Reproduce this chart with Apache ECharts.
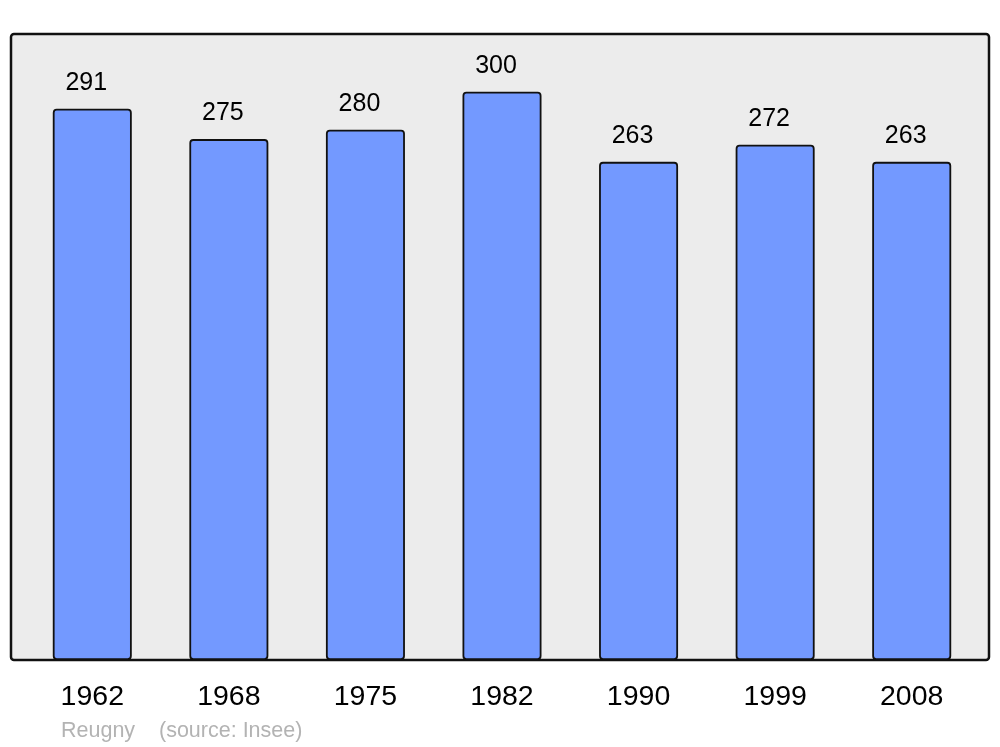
<!DOCTYPE html>
<html>
<head>
<meta charset="utf-8">
<script src="https://cdn.jsdelivr.net/npm/echarts@6/dist/echarts.min.js"></script>
<style>html,body{margin:0;padding:0;background:#fff;}#c{width:1000px;height:747px;}</style>
</head>
<body>
<div id="c"></div>
<script>
const years = ['1962', '1968', '1975', '1982', '1990', '1999', '2008'];
const population = [291, 275, 280, 300, 263, 272, 263];
const place = 'Reugny';
const source = '(source: Insee)';

const chart = echarts.init(document.getElementById('c'));
chart.setOption({
  animation: false,
  textStyle: { fontFamily: 'Liberation Sans, Arial, sans-serif' },
  graphic: [
    { type: 'rect', z: -10, shape: { x: 11, y: 34, width: 978, height: 626, r: 3 },
      style: { fill: '#ececec', stroke: '#111', lineWidth: 2.5 } },
    { type: 'text', left: 61, top: 720, style: { text: place, fill: '#b3b3b3', font: '21.5px Liberation Sans, Arial, sans-serif' } },
    { type: 'text', left: 159, top: 720, style: { text: source, fill: '#b3b3b3', font: '21.5px Liberation Sans, Arial, sans-serif' } }
  ],
  grid: { left: 24, right: 20, top: 34, bottom: 87, show: false },
  xAxis: {
    type: 'category', data: years,
    axisLine: { show: false }, axisTick: { show: false },
    axisLabel: { color: '#000', fontSize: 28.5, margin: 23 }
  },
  yAxis: { type: 'value', min: 0, max: 330.5, show: false, splitLine: { show: false } },
  series: [{
    type: 'bar', data: population, barWidth: 79,
    itemStyle: { color: '#7399ff', borderColor: '#111', borderWidth: 1.8, borderRadius: 3 },
    label: { show: true, position: 'top', distance: 13.5, color: '#000', fontSize: 25, offset: [-6, 0] }
  }]
});
</script>
</body>
</html>
